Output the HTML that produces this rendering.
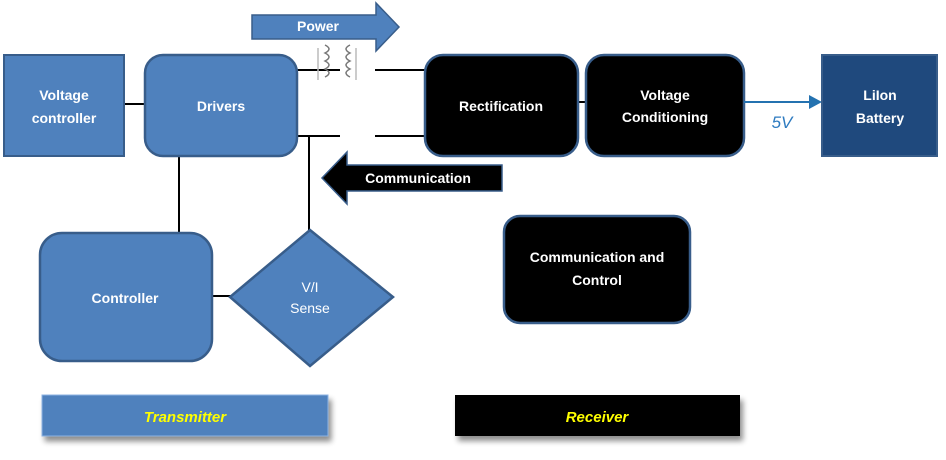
<!DOCTYPE html>
<html><head><meta charset="utf-8"><style>
html,body{margin:0;padding:0;background:#fff;width:946px;height:460px;overflow:hidden}
svg text{font-family:"Liberation Sans",sans-serif;font-weight:bold;font-size:14px;fill:#fff}
</style></head><body>
<svg width="946" height="460" viewBox="0 0 946 460" xmlns="http://www.w3.org/2000/svg">
<defs>
<filter id="sh" x="-10%" y="-30%" width="120%" height="180%"><feGaussianBlur in="SourceAlpha" stdDeviation="3"/><feOffset dx="3" dy="5"/><feComponentTransfer><feFuncA type="linear" slope="0.45"/></feComponentTransfer><feMerge><feMergeNode/><feMergeNode in="SourceGraphic"/></feMerge></filter>
</defs>
<!-- connectors -->
<g stroke="#000" stroke-width="2" fill="none">
<line x1="124" y1="104" x2="145" y2="104"/>
<line x1="297" y1="70" x2="340" y2="70"/>
<line x1="297" y1="136" x2="340" y2="136"/>
<line x1="375" y1="70" x2="425" y2="70"/>
<line x1="375" y1="136" x2="425" y2="136"/>
<line x1="309" y1="136" x2="309" y2="232"/>
<line x1="179" y1="156" x2="179" y2="232"/>
<line x1="212" y1="296" x2="232" y2="296"/>
<line x1="578" y1="102" x2="586" y2="102"/>
</g>
<!-- transformer coils -->
<g stroke="#777" stroke-width="1.5" fill="none">
<path d="M325 45 q8 4 0 8 q8 4 0 8 q8 4 0 8 q8 4 0 8"/>
<path d="M350 45 q-8 4 0 8 q-8 4 0 8 q-8 4 0 8 q-8 4 0 8"/>
<line x1="318" y1="48" x2="318" y2="80" stroke="#bbb"/>
<line x1="356" y1="48" x2="356" y2="80" stroke="#bbb"/>
</g>
<!-- power arrow -->
<polygon points="252,15 376,15 376,3 399,27 376,51 376,39 252,39" fill="#4f81bd" stroke="#385d8a" stroke-width="1.5"/>
<text x="318" y="31" text-anchor="middle" font-size="13">Power</text>
<!-- communication arrow -->
<polygon points="502,165 347,165 347,152 322,178 347,204 347,191 502,191" fill="#000" stroke="#385d8a" stroke-width="1.5"/>
<text x="418" y="183" text-anchor="middle" font-size="13">Communication</text>
<!-- blocks -->
<rect x="4" y="55" width="120" height="101" fill="#4f81bd" stroke="#385d8a" stroke-width="2"/>
<text x="64" y="100" text-anchor="middle">Voltage</text>
<text x="64" y="123" text-anchor="middle">controller</text>
<rect x="145" y="55" width="152" height="101" rx="18" fill="#4f81bd" stroke="#385d8a" stroke-width="2.5"/>
<text x="221" y="111" text-anchor="middle">Drivers</text>
<rect x="425" y="55" width="153" height="101" rx="18" fill="#000" stroke="#385d8a" stroke-width="2.5"/>
<text x="501" y="111" text-anchor="middle">Rectification</text>
<rect x="586" y="55" width="158" height="101" rx="18" fill="#000" stroke="#385d8a" stroke-width="2.5"/>
<text x="665" y="100" text-anchor="middle">Voltage</text>
<text x="665" y="122" text-anchor="middle">Conditioning</text>
<line x1="744" y1="102" x2="810" y2="102" stroke="#2472b0" stroke-width="2"/>
<polygon points="809,95 822,102 809,109" fill="#2472b0"/>
<text x="782" y="128" text-anchor="middle" style="font-weight:normal;font-style:italic;fill:#2e7bc0;font-size:17px">5V</text>
<rect x="822" y="55" width="115" height="101" fill="#1f497d" stroke="#385d8a" stroke-width="2"/>
<text x="880" y="100" text-anchor="middle">LiIon</text>
<text x="880" y="123" text-anchor="middle">Battery</text>
<rect x="40" y="233" width="172" height="128" rx="22" fill="#4f81bd" stroke="#385d8a" stroke-width="2.5"/>
<text x="125" y="303" text-anchor="middle">Controller</text>
<polygon points="310,230 393,297 310,366 230,297" fill="#4f81bd" stroke="#385d8a" stroke-width="2.5"/>
<text x="310" y="292" text-anchor="middle" style="font-weight:normal;font-size:14px">V/I</text>
<text x="310" y="313" text-anchor="middle" style="font-weight:normal;font-size:14px">Sense</text>
<rect x="504" y="216" width="186" height="107" rx="16" fill="#000" stroke="#385d8a" stroke-width="2.5"/>
<text x="597" y="262" text-anchor="middle">Communication and</text>
<text x="597" y="285" text-anchor="middle">Control</text>
<!-- labels -->
<rect x="42" y="395" width="286" height="41" fill="#4f81bd" stroke="#8eb4e3" stroke-width="1" filter="url(#sh)"/>
<text x="185" y="422" text-anchor="middle" style="fill:#ffff00;font-style:italic;font-size:15px">Transmitter</text>
<rect x="455" y="395" width="285" height="41" fill="#000" filter="url(#sh)"/>
<text x="597" y="422" text-anchor="middle" style="fill:#ffff00;font-style:italic;font-size:15px">Receiver</text>
</svg>
</body></html>
